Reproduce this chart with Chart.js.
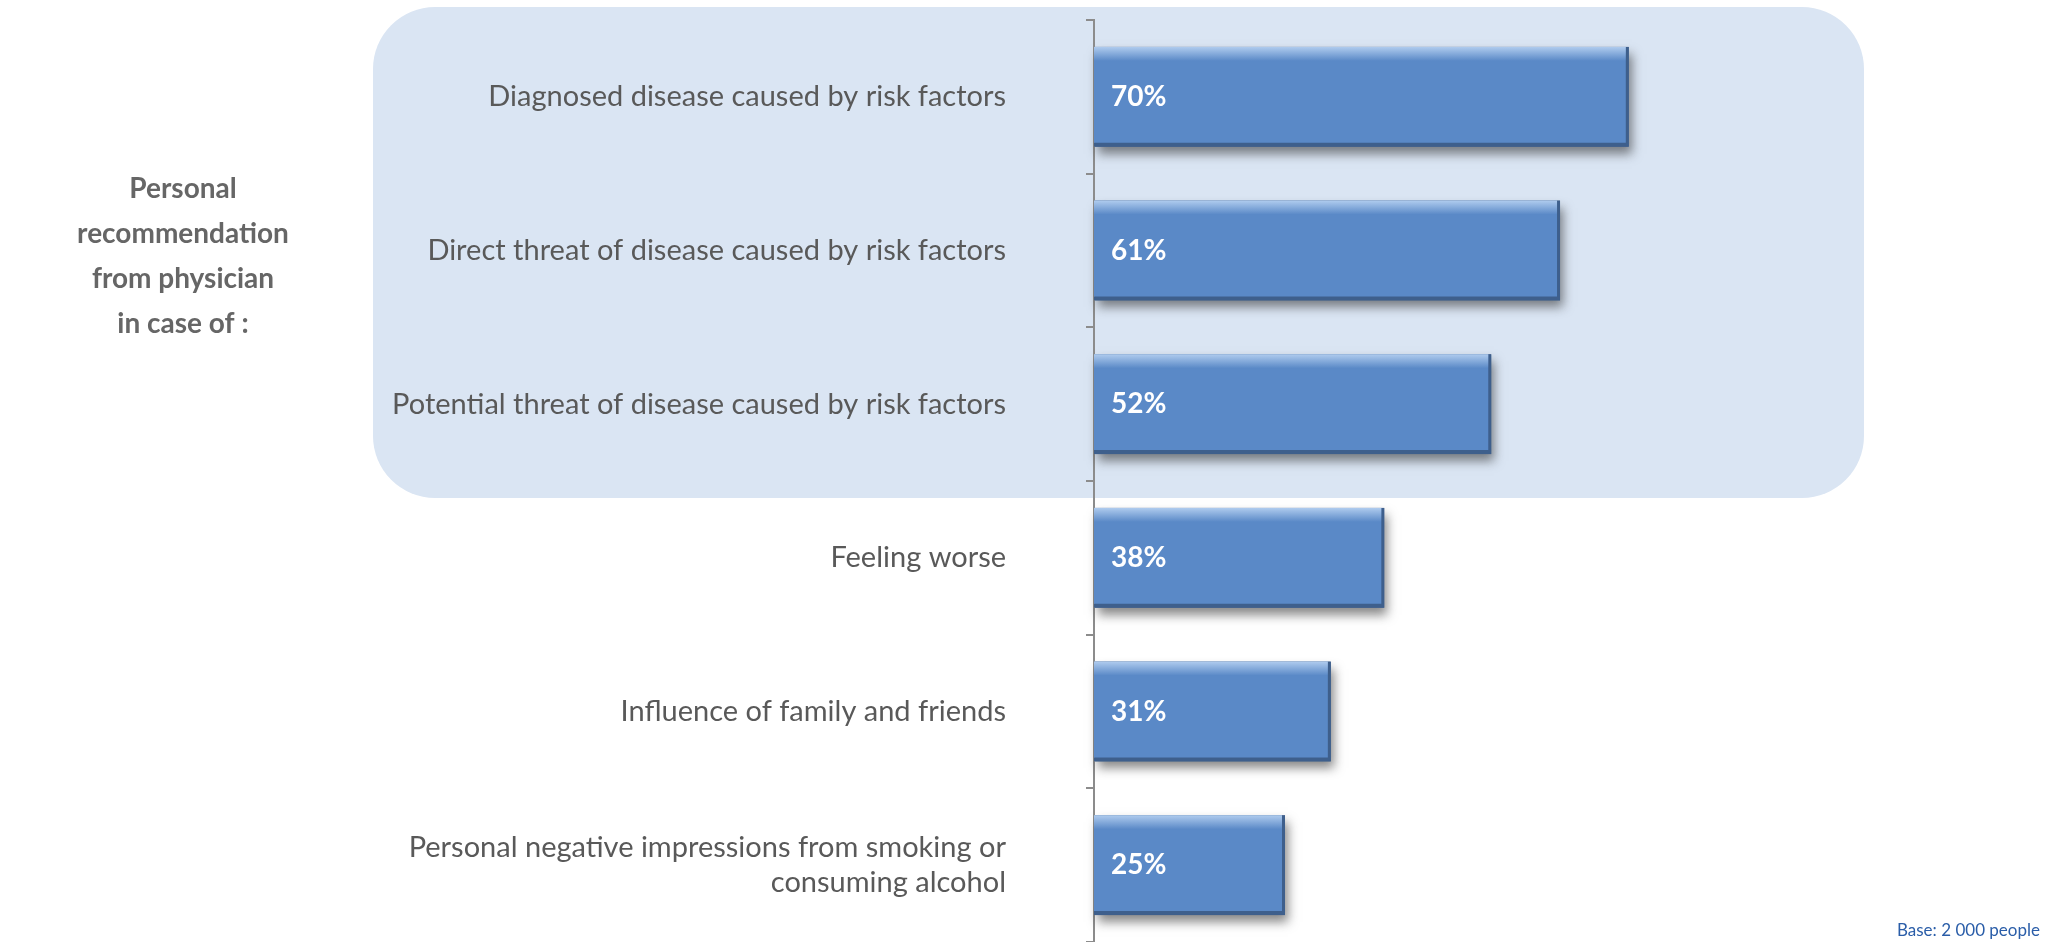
<!DOCTYPE html>
<html>
<head>
<meta charset="utf-8">
<script src="https://cdn.jsdelivr.net/npm/chart.js@4"></script>
<style>
  html, body { margin: 0; padding: 0; background: #fff; }
  #wrap { position: relative; width: 2047px; height: 942px; }
</style>
</head>
<body>
<div id="wrap"><canvas id="chart"></canvas></div>
<script>
// Data
const categories = [
    'Diagnosed disease caused by risk factors',
    'Direct threat of disease caused by risk factors',
    'Potential threat of disease caused by risk factors',
    'Feeling worse',
    'Influence of family and friends',
    ['Personal negative impressions from smoking or', 'consuming alcohol']
];
const shares = [70, 61, 52, 38, 31, 25];
const sideTitle = ['Personal', 'recommendation', 'from physician', 'in case of :'];
const baseNote = 'Base: 2 000 people';
const highlightCount = 3; // first rows sit in the blue box

const FONT = 'Lato, "Open Sans", sans-serif';

// Blue rounded box behind the physician-related rows
const highlightBox = {
    id: 'highlightBox',
    beforeDraw(chart) {
        const { ctx, chartArea, scales } = chart;
        const y = scales.y;
        const half = (y.getPixelForValue(1) - y.getPixelForValue(0)) / 2;
        const top = chartArea.top - 13;
        const bottom = y.getPixelForValue(highlightCount - 1) + half + 17;
        const left = 373;
        const right = chartArea.right + 6;
        ctx.save();
        ctx.fillStyle = '#dae5f3';
        ctx.beginPath();
        ctx.roundRect(left, top, right - left, bottom - top, 62);
        ctx.fill();
        ctx.restore();
    }
};

// Soft shadow under the bars (bar elements clip themselves, so draw it first)
const barShadow = {
    id: 'barShadow',
    beforeDatasetsDraw(chart) {
        const ctx = chart.ctx;
        const meta = chart.getDatasetMeta(0);
        ctx.save();
        ctx.shadowColor = 'rgba(40, 40, 40, 0.55)';
        ctx.shadowBlur = 10;
        ctx.shadowOffsetX = 3;
        ctx.shadowOffsetY = 7;
        ctx.fillStyle = '#3e5f8c';
        meta.data.forEach(bar => {
            const top = bar.y - bar.height / 2;
            ctx.fillRect(bar.base + 1, top, bar.x - bar.base - 1, bar.height);
        });
        ctx.restore();
    }
};

// Light glossy strip on top of each bar + white percentages inside
const valueLabels = {
    id: 'valueLabels',
    afterDatasetsDraw(chart) {
        const ctx = chart.ctx;
        const meta = chart.getDatasetMeta(0);
        ctx.save();
        meta.data.forEach(bar => {
            const top = bar.y - bar.height / 2;
            const g = ctx.createLinearGradient(0, top, 0, top + 14);
            g.addColorStop(0, 'rgba(190, 215, 245, 0.85)');
            g.addColorStop(1, 'rgba(190, 215, 245, 0)');
            ctx.fillStyle = g;
            ctx.fillRect(bar.base, top, bar.x - bar.base - 3, 14);
        });

        ctx.font = 'bold 28px ' + FONT;
        ctx.fillStyle = '#ffffff';
        ctx.textAlign = 'left';
        ctx.textBaseline = 'middle';
        meta.data.forEach((bar, i) => {
            ctx.fillText(shares[i] + '%', bar.base + 17, bar.y);
        });
        ctx.restore();
    }
};

// Side heading on the left and base note bottom right
const extraText = {
    id: 'extraText',
    afterDraw(chart) {
        const ctx = chart.ctx;
        ctx.save();
        ctx.font = 'bold 28px ' + FONT;
        ctx.fillStyle = '#666666';
        ctx.textAlign = 'center';
        ctx.textBaseline = 'middle';
        sideTitle.forEach((line, i) => {
            ctx.fillText(line, 183, 189 + i * 45);
        });

        ctx.font = '17px ' + FONT;
        ctx.fillStyle = '#2a5da8';
        ctx.textAlign = 'right';
        ctx.textBaseline = 'alphabetic';
        ctx.fillText(baseNote, 2040, 936);
        ctx.restore();
    }
};

const ctx = document.getElementById('chart').getContext('2d');
new Chart(ctx, {
    type: 'bar',
    data: {
        labels: categories,
        datasets: [{
            data: shares,
            backgroundColor: '#5a89c7',
            borderColor: '#3e5f8c',
            borderWidth: { top: 0, left: 0, right: 3, bottom: 4 },
            borderSkipped: false,
            barPercentage: 0.65,
            categoryPercentage: 1
        }]
    },
    options: {
        indexAxis: 'y',
        responsive: true,
        maintainAspectRatio: false,
        animation: false,
        layout: {
            padding: { top: 20, right: 189, bottom: 0, left: 0 }
        },
        scales: {
            x: {
                display: false,
                min: 0,
                max: 100
            },
            y: {
                afterFit(scale) {
                    scale.width = 1094;
                    scale.paddingTop = 0;
                    scale.paddingBottom = 0;
                },
                grid: {
                    display: true,
                    offset: true,
                    drawOnChartArea: false,
                    drawTicks: true,
                    tickLength: 8,
                    color: '#8c8c8c',
                    lineWidth: 2
                },
                border: {
                    display: true,
                    color: '#8c8c8c',
                    width: 2
                },
                ticks: {
                    padding: 80,
                    color: '#595959',
                    font: { family: FONT, size: 29 }
                }
            }
        },
        plugins: {
            legend: { display: false },
            tooltip: { enabled: false }
        }
    },
    plugins: [highlightBox, barShadow, valueLabels, extraText]
});
</script>
</body>
</html>
